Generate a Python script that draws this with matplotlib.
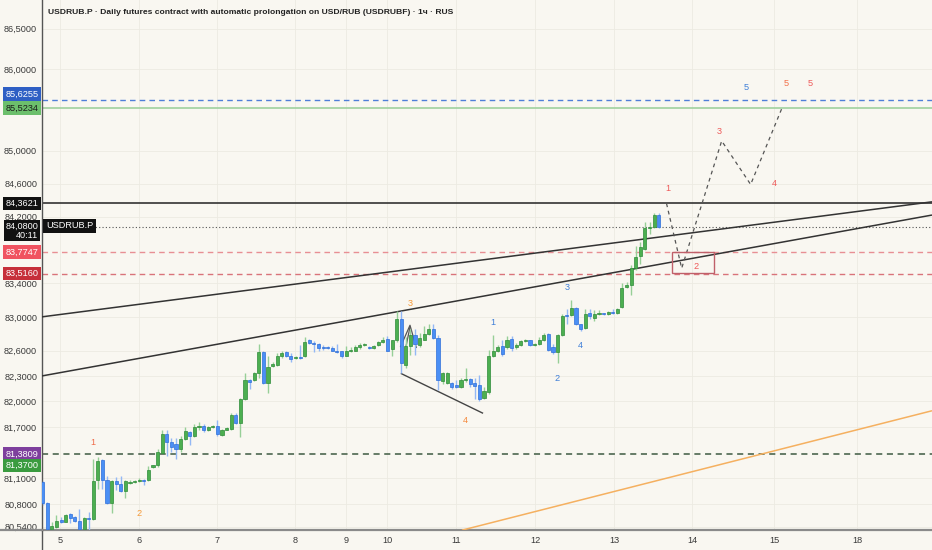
import numpy as np
import matplotlib
matplotlib.use('Agg')
import matplotlib.pyplot as plt
from matplotlib import font_manager
from matplotlib.patches import Rectangle
from matplotlib.lines import Line2D
from matplotlib.ticker import FixedLocator, FuncFormatter, NullLocator

### Data (hourly candles)
opens = [81.06, 80.81, 80.51, 80.54, 80.62, 80.60, 80.69, 80.65, 80.61, 80.51,
         80.64, 80.63, 81.08, 81.31, 81.08, 80.81, 81.07, 81.04, 80.95, 81.05,
         81.06, 81.07, 81.08, 81.08, 81.23, 81.25, 81.40, 81.62, 81.52, 81.50,
         81.44, 81.56, 81.64, 81.59, 81.70, 81.71, 81.66, 81.70, 81.71, 81.61,
         81.67, 81.68, 81.84, 81.75, 82.03, 82.25, 82.25, 82.34, 82.58, 82.22,
         82.42, 82.43, 82.53, 82.58, 82.53, 82.51, 82.52, 82.53, 82.73, 82.69,
         82.68, 82.64, 82.64, 82.63, 82.60, 82.59, 82.54, 82.59, 82.60, 82.64,
         82.66, 82.64, 82.63, 82.66, 82.70, 82.74, 82.62, 82.72, 82.97, 82.43,
         82.65, 82.78, 82.67, 82.73, 82.80, 82.86, 82.75, 82.24, 82.22, 82.22,
         82.19, 82.17, 82.25, 82.26, 82.22, 82.19, 82.04, 82.11, 82.53, 82.59,
         82.65, 82.64, 82.74, 82.64, 82.67, 82.71, 82.72, 82.66, 82.68, 82.72,
         82.80, 82.64, 82.58, 82.78, 83.02, 83.02, 83.10, 82.91, 82.87, 83.04,
         82.99, 83.03, 83.04, 83.03, 83.06, 83.04, 83.12, 83.35, 83.38, 83.58,
         83.73, 83.81, 84.06, 84.08, 84.22]
highs = [81.07, 80.82, 80.60, 80.67, 80.65, 80.69, 80.70, 80.66, 80.75, 80.65,
         80.71, 81.32, 81.35, 81.32, 81.13, 81.08, 81.12, 81.13, 81.08, 81.08,
         81.08, 81.10, 81.09, 81.24, 81.26, 81.44, 81.67, 81.66, 81.57, 81.57,
         81.59, 81.70, 81.65, 81.74, 81.76, 81.74, 81.71, 81.72, 81.78, 81.68,
         81.70, 81.86, 81.86, 82.04, 82.33, 82.26, 82.35, 82.68, 82.60, 82.53,
         82.47, 82.57, 82.59, 82.59, 82.57, 82.53, 82.66, 82.76, 82.74, 82.71,
         82.69, 82.66, 82.65, 82.65, 82.68, 82.60, 82.65, 82.64, 82.66, 82.69,
         82.69, 82.65, 82.66, 82.71, 82.76, 82.77, 82.73, 83.07, 83.07, 82.76,
         82.85, 82.85, 82.81, 82.89, 82.92, 82.91, 82.79, 82.35, 82.35, 82.23,
         82.25, 82.27, 82.39, 82.28, 82.27, 82.31, 82.17, 82.61, 82.79, 82.67,
         82.73, 82.77, 82.77, 82.69, 82.73, 82.74, 82.73, 82.69, 82.76, 82.81,
         82.81, 82.68, 82.80, 83.03, 83.09, 83.20, 83.12, 82.92, 83.09, 83.09,
         83.08, 83.08, 83.05, 83.07, 83.09, 83.10, 83.40, 83.42, 83.62, 83.85,
         83.89, 84.14, 84.14, 84.24, 84.25]
lows = [80.79, 80.50, 80.50, 80.53, 80.58, 80.59, 80.58, 80.59, 80.50, 80.50,
        80.50, 80.62, 80.98, 80.98, 80.80, 80.70, 80.96, 80.94, 80.87, 81.04,
        81.05, 81.06, 81.02, 81.07, 81.22, 81.23, 81.39, 81.36, 81.41, 81.32,
        81.41, 81.55, 81.49, 81.58, 81.66, 81.64, 81.65, 81.69, 81.59, 81.60,
        81.66, 81.67, 81.74, 81.58, 82.02, 82.15, 82.24, 82.28, 82.21, 82.10,
        82.41, 82.42, 82.51, 82.52, 82.47, 82.50, 82.50, 82.52, 82.68, 82.58,
        82.60, 82.61, 82.62, 82.59, 82.57, 82.51, 82.53, 82.58, 82.59, 82.62,
        82.65, 82.62, 82.62, 82.65, 82.69, 82.59, 82.53, 82.70, 82.33, 82.39,
        82.55, 82.55, 82.64, 82.72, 82.79, 82.74, 82.13, 82.21, 82.21, 82.15,
        82.16, 82.16, 82.23, 82.17, 82.03, 82.01, 82.03, 82.09, 82.52, 82.58,
        82.54, 82.62, 82.59, 82.62, 82.65, 82.70, 82.65, 82.65, 82.67, 82.71,
        82.60, 82.56, 82.45, 82.77, 82.91, 83.01, 82.90, 82.83, 82.85, 82.98,
        82.95, 83.02, 83.02, 83.02, 83.03, 83.03, 83.11, 83.34, 83.26, 83.56,
        83.63, 83.80, 83.99, 84.06, 84.06]
closes = [80.81, 80.51, 80.55, 80.61, 80.59, 80.67, 80.64, 80.61, 80.51, 80.64,
          80.63, 81.07, 81.30, 81.08, 80.81, 81.07, 81.04, 80.95, 81.07, 81.06,
          81.07, 81.08, 81.07, 81.20, 81.25, 81.41, 81.62, 81.52, 81.47, 81.44,
          81.56, 81.65, 81.59, 81.70, 81.71, 81.66, 81.70, 81.71, 81.62, 81.67,
          81.69, 81.84, 81.75, 82.03, 82.25, 82.23, 82.33, 82.58, 82.22, 82.40,
          82.44, 82.53, 82.57, 82.53, 82.50, 82.52, 82.51, 82.70, 82.69, 82.68,
          82.63, 82.63, 82.63, 82.60, 82.58, 82.53, 82.59, 82.61, 82.64, 82.66,
          82.68, 82.63, 82.65, 82.70, 82.72, 82.60, 82.72, 82.97, 82.45, 82.65,
          82.78, 82.68, 82.75, 82.80, 82.85, 82.75, 82.25, 82.34, 82.34, 82.17,
          82.17, 82.25, 82.26, 82.20, 82.18, 82.03, 82.12, 82.53, 82.59, 82.64,
          82.56, 82.73, 82.63, 82.67, 82.71, 82.72, 82.66, 82.68, 82.72, 82.78,
          82.61, 82.58, 82.79, 83.01, 83.01, 83.10, 82.91, 82.85, 83.03, 83.01,
          83.03, 83.04, 83.03, 83.06, 83.04, 83.09, 83.34, 83.38, 83.58, 83.72,
          83.83, 84.06, 84.08, 84.22, 84.08]

# bottom axis: bar positions of the day labels
day_pos = [3.76, 20.95, 37.92, 54.88, 65.98, 74.90, 89.91, 107.09, 124.28, 141.25, 159.09, 177.14]
day_labels = ['5', '6', '7', '8', '9', '10', '11', '12', '13', '14', '15', '18']

# left price scale
price_ticks = [86.5, 86.0, 85.0, 84.6, 84.2, 83.4, 83.0, 82.6, 82.3, 82.0, 81.7, 81.1, 80.8, 80.54]

# horizontal levels
lvl_blue = 85.6255
lvl_green = 85.5234
lvl_black = 84.3621
lvl_last = 84.08
lvl_red1 = 83.7747
lvl_red2 = 83.5160
lvl_dkgreen = 81.3809
lvl_alert = 81.3700

# drawings: (bar position, price)
trend_upper = [(-0.15, 83.00), (193.45, 84.38)]
trend_lower = [(-0.15, 82.30), (193.45, 84.22)]
orange_line = [(91.2, 80.50), (193.45, 81.89)]
wedge_low = [(77.9, 82.33), (95.8, 81.86)]
wedge_arrow = [(77.8, 82.64), (79.9, 82.90), (81.3, 82.63)]
wedge_arrow2 = [(79.0, 82.64), (79.9, 82.88)]
path_x = [135.7, 139.0, 147.7, 154.0, 160.8]
path_y = [84.36, 83.58, 85.12, 84.59, 85.52]
box_x = (137.0, 146.1)
box_y = (83.52, 83.77)

orange_waves = [('1', 11.0, 81.52, '#ef6c4a'), ('2', 21.0, 80.69, '#f59a3a'),
                ('3', 79.9, 83.16, '#f59a3a'), ('4', 91.9, 81.78, '#f5883a')]
blue_waves = [('1', 98.0, 82.93), ('2', 111.9, 82.27), ('3', 114.0, 83.35),
              ('4', 116.9, 82.66), ('5', 153.0, 85.77)]
red_waves = [('1', 136.1, 84.54), ('2', 142.1, 83.60), ('3', 147.1, 85.23),
             ('4', 159.1, 84.60), ('5', 166.9, 85.82)]
extra_wave = ('5', 161.8, 85.82)

title = 'USDRUB.P · Daily futures contract with automatic prolongation on USD/RUB (USDRUBF) · 1ч · RUS'

### Style
names = {f.name for f in font_manager.fontManager.ttflist}
if 'Liberation Sans Narrow' in names:
    FONT = 'Liberation Sans Narrow'
elif 'Liberation Sans' in names:
    FONT = 'Liberation Sans'
else:
    FONT = 'DejaVu Sans'
plt.rcParams['font.family'] = [FONT, 'DejaVu Sans']

BG = '#f9f7f1'
UP, UP_EDGE, UP_WICK = '#4caf50', '#2e8b3a', '#97cf97'
DN, DN_EDGE, DN_WICK = '#4a8ff5', '#2f6fd8', '#93b8f5'

fig = plt.figure(figsize=(9.32, 5.5), dpi=100, facecolor=BG)
renderer = fig.canvas.get_renderer()


def fit_size(text, target_px, weight='normal', cap=9.0):
    # font size that makes the text about target_px wide (never above cap)
    t = fig.text(0, 0, text, fontsize=10, fontweight=weight)
    w = t.get_window_extent(renderer).width
    t.remove()
    return min(cap, 10 * target_px / w)


FS = fit_size('86,5000', 33, cap=7.3)
FS_TITLE = fit_size(title, 400, 'bold', cap=7.6)

ax = fig.add_axes([42 / 932, 20 / 550, 890 / 932, 530 / 550], facecolor=BG)

ax.set_yscale('log')
ax.set_xlim(-0.15, 193.45)
ax.set_ylim(80.502, 86.857)

# grid
ax.yaxis.set_major_locator(FixedLocator(price_ticks))
ax.yaxis.set_minor_locator(NullLocator())
ax.yaxis.set_major_formatter(FuncFormatter(lambda v, p: f'{v:.4f}'.replace('.', ',')))
ax.set_xticks(day_pos)
ax.set_xticklabels(day_labels)
ax.grid(True, color='#ecEAE2', lw=0.6, zorder=0)
ax.tick_params(axis='both', length=0, labelsize=FS, labelcolor='#3a3a3a')
ax.tick_params(axis='y', pad=3.5)
ax.tick_params(axis='x', pad=4)
for s in ['top', 'right']:
    ax.spines[s].set_visible(False)
ax.spines['left'].set_color('#555555')
ax.spines['left'].set_linewidth(1.0)
ax.spines['bottom'].set_color('#8a8a8a')
ax.spines['bottom'].set_linewidth(1.6)
fig.add_artist(Line2D([42 / 932, 42 / 932], [0, 20 / 550], color='#555555', lw=1.0))
fig.add_artist(Line2D([0, 42 / 932], [20 / 550, 20 / 550], color='#8a8a8a', lw=1.6))

# horizontal levels
ax.axhline(lvl_blue, color='#4f7fd9', lw=1.0, ls=(0, (4, 3)), zorder=2)
ax.axhline(lvl_green, color='#9fd19f', lw=1.2, zorder=2)
ax.axhline(lvl_black, color='#333333', lw=1.2, zorder=2)
ax.axhline(lvl_last, color='#555555', lw=0.8, ls=(0, (1, 2)), zorder=2)
ax.axhline(lvl_red1, color='#e88f94', lw=1.0, ls=(0, (4, 3)), zorder=2)
ax.axhline(lvl_red2, color='#d9737a', lw=1.0, ls=(0, (4, 3)), zorder=2)
ax.axhline(lvl_dkgreen, color='#3e5a42', lw=1.1, ls=(0, (4, 3)), zorder=2)

# trend lines
for pts, col, lw in [(trend_upper, '#333333', 1.1), (trend_lower, '#333333', 1.1),
                     (orange_line, '#f5b060', 1.1), (wedge_low, '#444444', 1.0),
                     (wedge_arrow, '#555555', 0.9), (wedge_arrow2, '#555555', 0.9)]:
    xs, ys = zip(*pts)
    ax.plot(xs, ys, color=col, lw=lw, zorder=3, solid_capstyle='butt')

# candles
o = np.array(opens); h = np.array(highs); l = np.array(lows); c = np.array(closes)
x = np.arange(len(o))
up = c >= o
ax.vlines(x[up], l[up], h[up], color=UP_WICK, lw=1.0, zorder=4)
ax.vlines(x[~up], l[~up], h[~up], color=DN_WICK, lw=1.0, zorder=4)
bottoms = np.minimum(o, c)
heights = np.maximum(np.abs(c - o), 0.012)
ax.bar(x[up], heights[up], bottom=bottoms[up], width=0.68, color=UP, edgecolor=UP_EDGE, lw=0.5, zorder=5)
ax.bar(x[~up], heights[~up], bottom=bottoms[~up], width=0.68, color=DN, edgecolor=DN_EDGE, lw=0.5, zorder=5)

# projected path and box
ax.plot(path_x, path_y, color='#555555', lw=0.9, ls=(0, (3, 3)), zorder=3)
ax.add_patch(Rectangle((box_x[0], box_y[0]), box_x[1] - box_x[0], box_y[1] - box_y[0],
                       fill=False, ec='#c0606a', lw=1.0, zorder=3))

# wave counts
WFS = FS
for t, xx, yy, col in orange_waves:
    ax.text(xx, yy, t, color=col, fontsize=WFS, ha='center', va='center', zorder=6)
for t, xx, yy in blue_waves:
    ax.text(xx, yy, t, color='#3f7fd8', fontsize=WFS, ha='center', va='center', zorder=6)
for t, xx, yy in red_waves:
    ax.text(xx, yy, t, color='#ee5a5a', fontsize=WFS, ha='center', va='center', zorder=6)
ax.text(extra_wave[1], extra_wave[2], extra_wave[0], color='#f2704a', fontsize=WFS,
        ha='center', va='center', zorder=6)

# price tags on the scale
def price_tag(price, text, fc, tc='white', dy=0.0, pad=0.25):
    ax.annotate(text, xy=(0, price), xycoords=('axes fraction', 'data'),
                xytext=(-2.5, dy), textcoords='offset points', ha='right', va='center',
                multialignment='right', fontsize=FS, color=tc, annotation_clip=False,
                zorder=10, linespacing=1.0,
                bbox=dict(boxstyle=f'square,pad={pad}', fc=fc, ec='none'))

price_tag(lvl_blue, '85,6255', '#2f5fc4', dy=4.0)
price_tag(lvl_green, '85,5234', '#6cbf6c', tc='#1a1a1a')
price_tag(lvl_black, '84,3621', '#111111')
price_tag(lvl_last, '84,0800\n40:11', '#111111', dy=-2.8, pad=0.15)
price_tag(lvl_red1, '83,7747', '#f05360')
price_tag(lvl_red2, '83,5160', '#c62f3a')
price_tag(lvl_dkgreen, '81,3809', '#7e3f9d')
price_tag(lvl_alert, '81,3700', '#3a9b3f', dy=-7.5)

ax.annotate('USDRUB.P', xy=(0, lvl_last), xycoords=('axes fraction', 'data'),
            xytext=(3, 0.5), textcoords='offset points', ha='left', va='center',
            fontsize=FS, color='white', zorder=10,
            bbox=dict(boxstyle='square,pad=0.3', fc='#111111', ec='none'))

fig.text(48 / 932, 1 - 12 / 550, title, fontsize=FS_TITLE, fontweight='bold',
         color='#222222', ha='left', va='center')

fig.savefig('out.png', dpi=100, facecolor=BG)
